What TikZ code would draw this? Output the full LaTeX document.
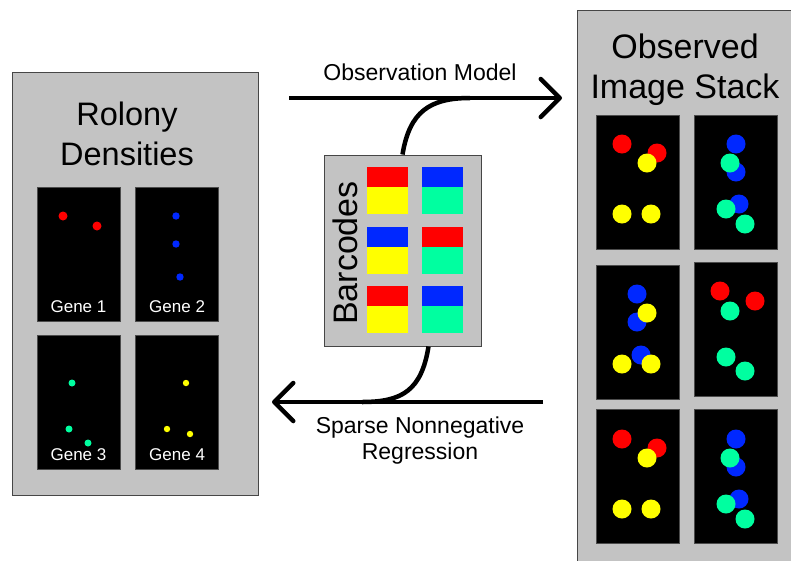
\documentclass[tikz,border=0pt]{standalone}
\usepackage{fontspec}
\setmainfont{Liberation Sans}
\usetikzlibrary{arrows.meta,positioning}
\definecolor{boxgray}{RGB}{195,195,195}
\definecolor{boxline}{RGB}{70,70,70}
\definecolor{spotred}{RGB}{255,0,0}
\definecolor{spotyellow}{RGB}{255,255,0}
\definecolor{spotblue}{RGB}{0,40,255}
\definecolor{spotgreen}{RGB}{0,255,160}

\begin{document}
\begin{tikzpicture}[x=1pt,y=-1pt,
  panel/.style={draw=boxline,fill=boxgray,line width=1pt,inner sep=0pt},
  frame/.style={draw=black!70,fill=black,line width=0.6pt,minimum width=83pt,minimum height=134pt,inner sep=0pt},
  genelabel/.style={text=white,font=\fontsize{17}{20}\selectfont,anchor=base},
  heading/.style={align=center,anchor=base},
  caption/.style={font=\fontsize{23}{26}\selectfont,align=center,anchor=base},
  flow/.style={line width=4.5pt,-{Straight Barb[length=19pt,width=38pt,round]}},
  link/.style={line width=4.5pt}]
\clip (0,0) rectangle (791,560);
\fill[white] (0,0) rectangle (791,560);

% rolony densities
\node[panel,minimum width=246pt,minimum height=423pt] (rolony) at (135,283.5) {};
\node[heading,font=\fontsize{32.5}{40}\selectfont] (rolonytitle) at (127,165) {Rolony\\Densities};
\node[frame] (gene1) at (78.5,254) {};
\node[frame,right=15pt of gene1] (gene2) {};
\node[frame,below=14pt of gene1] (gene3) {};
\node[frame,right=15pt of gene3] (gene4) {};
\foreach \g/\t in {gene1/Gene 1,gene2/Gene 2,gene3/Gene 3,gene4/Gene 4}
  \node[genelabel] (\g label) at ([yshift=9pt]\g.south) {\t};
\fill[spotred] (63,216) circle (4.5) (97,226) circle (4.5);
\fill[spotblue] (176,216) circle (3.7) (176,244) circle (3.7) (180,277) circle (3.7);
\fill[spotgreen] (72,383) circle (3.5) (69,429) circle (3.5) (88,443) circle (3.5);
\fill[spotyellow] (186,383) circle (3.2) (167,429) circle (3.2) (190,434) circle (3.2);

% barcodes
\node[panel,minimum width=157pt,minimum height=191pt] (barcodes) at (402.5,250.5) {};
\node[rotate=90,anchor=base,font=\fontsize{34}{40}\selectfont] (barcodestitle) at (357,253) {Barcodes};
\foreach \top/\bot/\x/\y in {spotred/spotyellow/367/167,spotblue/spotgreen/422/167,
    spotblue/spotyellow/367/227,spotred/spotgreen/422/227,
    spotred/spotyellow/367/286,spotblue/spotgreen/422/286}{
  \fill[\top] (\x,\y) rectangle ++(41,20);
  \fill[\bot] (\x,\y+20) rectangle ++(41,27);
}

% observation model / regression
\coordinate (om tail) at (289,98);
\coordinate (om head) at (562,98);
\coordinate (om join) at (470,98);
\coordinate (snr tail) at (543,402);
\coordinate (snr head) at (272,402);
\coordinate (snr join) at (362,402);
\draw[flow] (om tail) -- (om head);
\draw[flow] (snr tail) -- (snr head);
\draw[link] ([xshift=79pt]barcodes.north west) .. controls +(7,-43) and +(-40,0) .. (om join);
\draw[link] ([xshift=105pt]barcodes.south west) .. controls +(-7,44) and +(40,0) .. (snr join);
\node[caption] (omlabel) at (420,80) {Observation Model};
\node[caption] (snrlabel) at (420,459) {Sparse Nonnegative\\Regression};

% observed image stack
\node[panel,minimum width=230pt,minimum height=560pt,anchor=north west] (stack) at (577,10) {};
\node[heading,font=\fontsize{34}{40}\selectfont] (stacktitle) at (685,98) {Observed\\Image Stack};
\node[frame] (stack11) at (637.5,182) {};
\node[frame,right=15pt of stack11] (stack12) {};
\node[frame] (stack21) at (637.5,332) {};
\node[frame] (stack22) at (735.5,329.5) {};
\node[frame] (stack31) at (637.5,476.5) {};
\node[frame,right=15pt of stack31] (stack32) {};
\foreach \c/\x/\y in {spotred/622/144,spotred/657/153,spotyellow/647/163,spotyellow/622/214,spotyellow/651/214,
    spotblue/736/144,spotblue/736/172,spotgreen/730/163,spotblue/739/204,spotgreen/726/209,spotgreen/745/224,
    spotblue/637/294,spotblue/637/322,spotyellow/647/313,spotblue/641/355,spotyellow/622/364,spotyellow/651/364,
    spotred/720/291,spotred/755/301,spotgreen/730/311,spotgreen/726/357,spotgreen/745/371,
    spotred/622/439,spotred/657/448,spotyellow/647/458,spotyellow/622/509,spotyellow/651/509,
    spotblue/736/439,spotblue/736/467,spotgreen/730/458,spotblue/739/499,spotgreen/726/504,spotgreen/745/519}
  \fill[\c] (\x,\y) circle (9.5);
\end{tikzpicture}
\end{document}
